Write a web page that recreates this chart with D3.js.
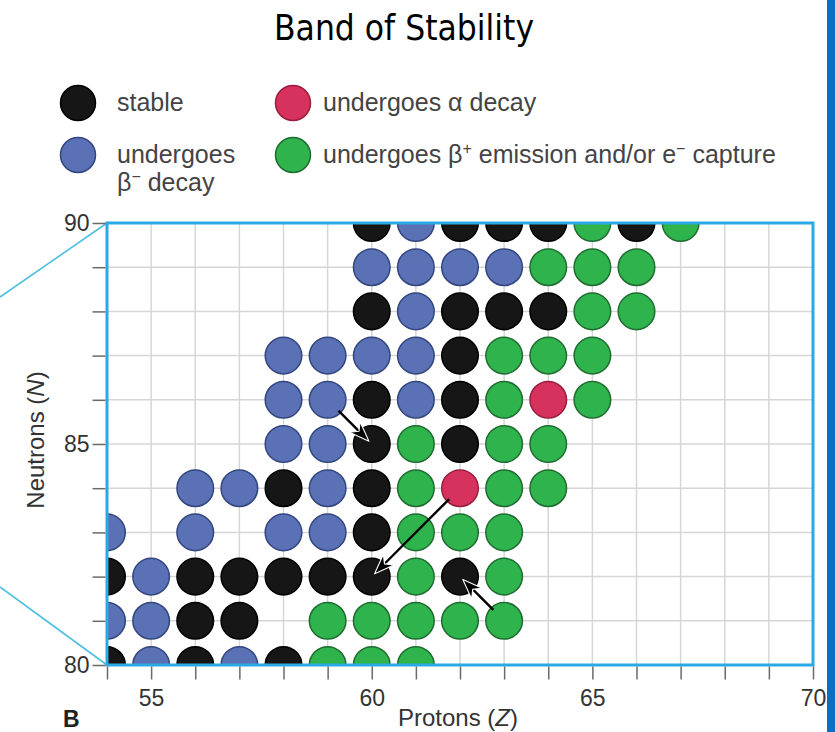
<!DOCTYPE html>
<html>
<head>
<meta charset="utf-8">
<script src="https://cdn.jsdelivr.net/npm/d3@7"></script>
<style>
  html, body { margin: 0; padding: 0; background: #fff; }
  svg { display: block; }
</style>
</head>
<body>
<svg id="chart" width="835" height="732"></svg>
<script>
// nuclides by decay mode, [Z, N]
const stable = [
    [60, 90], [62, 90], [63, 90], [64, 90], [66, 90],
    [60, 88], [62, 88], [63, 88], [64, 88],
    [62, 87],
    [60, 86], [62, 86],
    [60, 85], [62, 85],
    [58, 84], [60, 84],
    [60, 83],
    [54, 82], [56, 82], [57, 82], [58, 82], [59, 82], [60, 82], [62, 82],
    [56, 81], [57, 81],
    [54, 80], [56, 80], [58, 80]
];
const betaMinus = [
    [61, 90],
    [60, 89], [61, 89], [62, 89], [63, 89],
    [61, 88],
    [58, 87], [59, 87], [60, 87], [61, 87],
    [58, 86], [59, 86], [61, 86],
    [58, 85], [59, 85],
    [56, 84], [57, 84], [59, 84],
    [54, 83], [56, 83], [58, 83], [59, 83],
    [55, 82],
    [54, 81], [55, 81],
    [55, 80], [57, 80]
];
const alphaDecay = [[64, 86], [62, 84]];
const betaPlus = [
    [65, 90], [67, 90],
    [64, 89], [65, 89], [66, 89],
    [65, 88], [66, 88],
    [63, 87], [64, 87], [65, 87],
    [63, 86], [65, 86],
    [61, 85], [63, 85], [64, 85],
    [61, 84], [63, 84], [64, 84],
    [61, 83], [62, 83], [63, 83],
    [61, 82], [63, 82],
    [59, 81], [60, 81], [61, 81], [62, 81], [63, 81],
    [59, 80], [60, 80], [61, 80]
];
// decay arrows: from parent to daughter
const decays = [
    { from: [59, 86], to: [60, 85] },
    { from: [62, 84], to: [60, 82] },
    { from: [63, 81], to: [62, 82] }
];
const xDomain = [54, 70];
const yDomain = [80, 90];
const xLabels = [55, 60, 65, 70];
const yLabels = [80, 85, 90];

const types = [
    { key: 'stable', data: stable, fill: '#161616', stroke: '#000000' },
    { key: 'betaMinus', data: betaMinus, fill: '#5a71b6', stroke: '#34467f' },
    { key: 'alpha', data: alphaDecay, fill: '#d6325d', stroke: '#9a1f3e' },
    { key: 'betaPlus', data: betaPlus, fill: '#2fb34c', stroke: '#1f6d31' }
];

const plot = { left: 107, right: 813, top: 223, bottom: 665 };
const radius = 18.3;
const axisFont = 'Liberation Sans, Arial, Helvetica, sans-serif';

const svg = d3.select('#chart');

const x = d3.scaleLinear().domain(xDomain).range([plot.left, plot.right]);
const y = d3.scaleLinear().domain(yDomain).range([plot.bottom, plot.top]);

// right edge stripe
svg.append('rect')
    .attr('x', 827).attr('y', 0)
    .attr('width', 8).attr('height', 732)
    .attr('fill', '#0b6fc1');

// title
svg.append('text')
    .attr('x', 404).attr('y', 40)
    .attr('text-anchor', 'middle')
    .style('font-family', 'DejaVu Sans Condensed, DejaVu Sans, sans-serif')
    .style('font-size', '35px')
    .attr('fill', '#000')
    .text('Band of Stability');

// legend
const legend = svg.append('g').attr('class', 'legend')
    .style('font-family', axisFont)
    .style('font-size', '25px')
    .attr('fill', '#444');

const legendItems = [
    { type: types[0], cx: 78, cy: 103, tx: 117, lines: [['stable']] },
    { type: types[1], cx: 78, cy: 155, tx: 117, lines: [['undergoes'], ['β', '−', ' decay']] },
    { type: types[2], cx: 293, cy: 103, tx: 323, lines: [['undergoes α decay']] },
    { type: types[3], cx: 293, cy: 155, tx: 323, lines: [['undergoes β', '+', ' emission and/or e', '−', ' capture']] }
];

legendItems.forEach(item => {
    legend.append('circle')
        .attr('cx', item.cx).attr('cy', item.cy).attr('r', 17.5)
        .attr('fill', item.type.fill)
        .attr('stroke', item.type.stroke)
        .attr('stroke-width', 1.5);
    item.lines.forEach((parts, li) => {
        const t = legend.append('text')
            .attr('x', item.tx)
            .attr('y', item.cy + 8 + li * 28);
        parts.forEach((p, pi) => {
            const sup = pi % 2 === 1;
            t.append('tspan')
                .attr('dy', sup ? -9 : (pi > 0 ? 9 : 0))
                .style('font-size', sup ? '16px' : null)
                .text(p);
        });
    });
});

// zoom guide lines
svg.append('line')
    .attr('x1', 0).attr('y1', 297).attr('x2', plot.left).attr('y2', plot.top)
    .attr('stroke', '#4cc0e0').attr('stroke-width', 1.6);
svg.append('line')
    .attr('x1', 0).attr('y1', 587).attr('x2', plot.left).attr('y2', plot.bottom)
    .attr('stroke', '#4cc0e0').attr('stroke-width', 1.6);

// grid
const zTicks = d3.range(xDomain[0], xDomain[1] + 1);
const nTicks = d3.range(yDomain[0], yDomain[1] + 1);

svg.append('g')
    .attr('class', 'grid')
    .selectAll('line.gx')
    .data(zTicks.slice(1, -1))
    .join('line')
    .attr('x1', d => x(d)).attr('x2', d => x(d))
    .attr('y1', plot.top).attr('y2', plot.bottom)
    .attr('stroke', '#d6d6d6').attr('stroke-width', 1.5);

svg.append('g')
    .attr('class', 'grid')
    .selectAll('line.gy')
    .data(nTicks.slice(1, -1))
    .join('line')
    .attr('x1', plot.left).attr('x2', plot.right)
    .attr('y1', d => y(d)).attr('y2', d => y(d))
    .attr('stroke', '#d6d6d6').attr('stroke-width', 1.5);

// nuclide circles, clipped to the plot window
svg.append('clipPath').attr('id', 'plot-clip')
    .append('rect')
    .attr('x', plot.left).attr('y', plot.top)
    .attr('width', plot.right - plot.left)
    .attr('height', plot.bottom - plot.top);

const dots = svg.append('g').attr('clip-path', 'url(#plot-clip)');
types.forEach(t => {
    dots.selectAll(`circle.${t.key}`)
        .data(t.data)
        .join('circle')
        .attr('class', t.key)
        .attr('cx', d => x(d[0]))
        .attr('cy', d => y(d[1]))
        .attr('r', radius)
        .attr('fill', t.fill)
        .attr('stroke', t.stroke)
        .attr('stroke-width', 1.5);
});

// decay arrows
svg.append('defs').append('marker')
    .attr('id', 'arrowhead')
    .attr('markerUnits', 'userSpaceOnUse')
    .attr('viewBox', '-24 -12 26 24')
    .attr('refX', 0).attr('refY', 0)
    .attr('markerWidth', 26).attr('markerHeight', 24)
    .attr('orient', 'auto')
    .append('path')
    .attr('d', 'M0,0 L-20,-7.5 L-14,0 L-20,7.5 Z')
    .attr('fill', '#000')
    .attr('stroke', '#fff')
    .attr('stroke-width', 1.1)
    .attr('stroke-linejoin', 'round');

svg.append('g').selectAll('line.decay')
    .data(decays)
    .join('line')
    .attr('class', 'decay')
    .each(function(d) {
        const x0 = x(d.from[0]), y0 = y(d.from[1]);
        const x1 = x(d.to[0]), y1 = y(d.to[1]);
        const len = Math.hypot(x1 - x0, y1 - y0);
        const ux = (x1 - x0) / len, uy = (y1 - y0) / len;
        d3.select(this)
            .attr('x1', x0 + ux * (radius - 3)).attr('y1', y0 + uy * (radius - 3))
            .attr('x2', x1 - ux * 4).attr('y2', y1 - uy * 4);
    })
    .attr('stroke', '#000')
    .attr('stroke-width', 2.4)
    .attr('marker-end', 'url(#arrowhead)');

// plot border
svg.append('rect')
    .attr('x', plot.left).attr('y', plot.top)
    .attr('width', plot.right - plot.left)
    .attr('height', plot.bottom - plot.top)
    .attr('fill', 'none')
    .attr('stroke', '#2aaae2')
    .attr('stroke-width', 3);

// axes
const xAxis = d3.axisBottom(x)
    .tickValues(zTicks)
    .tickFormat(d => xLabels.includes(d) ? d : '')
    .tickSize(13)
    .tickPadding(10)
    .tickSizeOuter(0);

const yAxis = d3.axisLeft(y)
    .tickValues(nTicks)
    .tickFormat(d => yLabels.includes(d) ? d : '')
    .tickSize(13)
    .tickPadding(3)
    .tickSizeOuter(0);

const gx = svg.append('g')
    .attr('transform', `translate(0,${plot.bottom + 1.5})`)
    .call(xAxis);
const gy = svg.append('g')
    .attr('transform', `translate(${plot.left - 1.5},0)`)
    .call(yAxis);

[gx, gy].forEach(g => {
    g.select('.domain').remove();
    g.selectAll('.tick line').attr('stroke', '#6a6a6a').attr('stroke-width', 1.5);
    g.selectAll('.tick text')
        .attr('fill', '#333')
        .style('font-family', axisFont)
        .style('font-size', '23px');
});

// axis titles
const xTitle = svg.append('text')
    .attr('x', 458).attr('y', 726)
    .attr('text-anchor', 'middle')
    .style('font-family', axisFont)
    .style('font-size', '24px')
    .attr('fill', '#333');
xTitle.append('tspan').text('Protons (');
xTitle.append('tspan').style('font-style', 'italic').text('Z');
xTitle.append('tspan').text(')');

const yTitle = svg.append('text')
    .attr('transform', 'translate(44,440) rotate(-90)')
    .attr('text-anchor', 'middle')
    .style('font-family', axisFont)
    .style('font-size', '24px')
    .attr('fill', '#333');
yTitle.append('tspan').text('Neutrons (');
yTitle.append('tspan').style('font-style', 'italic').text('N');
yTitle.append('tspan').text(')');

svg.append('text')
    .attr('x', 63).attr('y', 727)
    .style('font-family', axisFont)
    .style('font-size', '23px')
    .style('font-weight', 'bold')
    .attr('fill', '#222')
    .text('B');
</script>
</body>
</html>
